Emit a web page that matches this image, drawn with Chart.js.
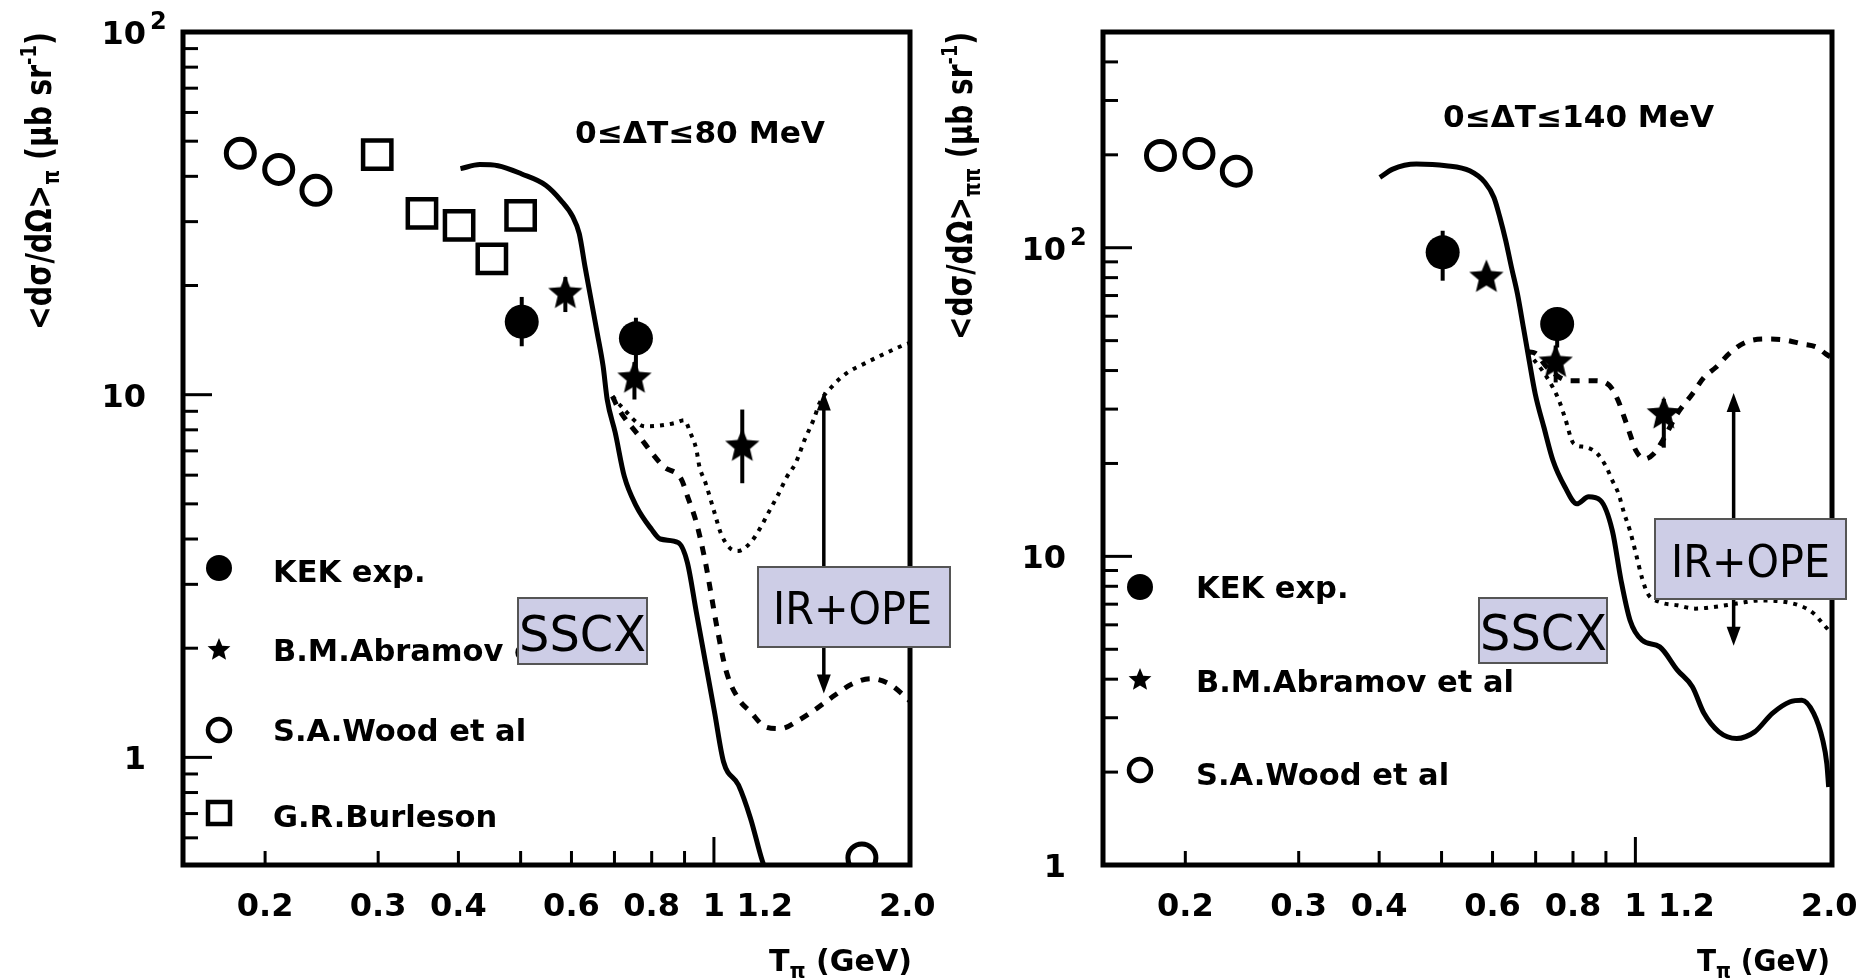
<!DOCTYPE html>
<html>
<head>
<meta charset="utf-8">
<script src="https://cdn.jsdelivr.net/npm/chart.js@4.4.1/dist/chart.umd.min.js"></script>
<style>
  html, body { margin: 0; padding: 0; background: #fff; }
  body { width: 1874px; height: 979px; position: relative; overflow: hidden; }
  #cL { position: absolute; left: 0; top: 0; width: 960px; height: 979px; }
  #cR { position: absolute; left: 930px; top: 0; width: 944px; height: 979px; }
</style>
</head>
<body>
<canvas id="cL" width="960" height="979"></canvas>
<canvas id="cR" width="944" height="979"></canvas>
<script>
// ---------- axis ticks ----------
const xTicks = [0.2, 0.3, 0.4, 0.5, 0.6, 0.7, 0.8, 0.9, 1.0];
const xMajorTicks = [1.0];
const xLabelValues = [0.2, 0.3, 0.4, 0.6, 0.8, 1.0, 1.2, 2.0];
const xLabels = ['0.2', '0.3', '0.4', '0.6', '0.8', '1', '1.2', '2.0'];
const yLabelValues = [1, 10, 100];
const yLabels = ['1', '10', '10^2'];
const yMinorTicksL = [0.6, 0.7, 0.8, 0.9, 2, 3, 4, 5, 6, 7, 8, 9, 20, 30, 40, 50, 60, 70, 80, 90];
const yMajorTicksL = [1, 10];
const yMinorTicksR = [2, 3, 4, 5, 6, 7, 8, 9, 20, 30, 40, 50, 60, 70, 80, 90, 200, 300, 400];
const yMajorTicksR = [10, 100];

// ---------- measured points, T_pi in GeV ----------
const kekT = [0.502, 0.756];
const abramovT = [0.587, 0.752, 1.107];
const woodT = [0.183, 0.210, 0.240];
const woodExtraT = [1.70];
const burlesonT = [0.299, 0.351, 0.401, 0.451, 0.500];

// left panel: 0 <= dT <= 80 MeV
const kekL = [15.9, 14.3];
const kekLoL = [13.6, 11.3];
const kekHiL = [18.6, 16.3];
const abramovL = [19.0, 11.1, 7.2];
const abramovLoL = [16.9, 9.7, 5.7];
const abramovHiL = [21.1, 12.3, 9.1];
const woodL = [46.3, 41.8, 36.6];
const woodExtraL = [0.528];
const burlesonL = [45.9, 31.6, 29.3, 23.7, 31.2];

// right panel: 0 <= dT <= 140 MeV
const kekR = [96.6, 56.6];
const kekLoR = [78.2, 47.5];
const kekHiR = [113.5, 63.5];
const abramovR = [80.1, 42.5, 28.9];
const abramovLoR = [80.1, 36.6, 22.5];
const abramovHiR = [80.1, 48.2, 32.4];
const woodR = [199, 202, 177];

// ---------- model curves ----------
// left, SSCX (solid)
const sscxLT = [0.403, 0.432, 0.461, 0.502, 0.547, 0.578, 0.603, 0.617, 0.630, 0.644, 0.658, 0.672, 0.682, 0.702, 0.725, 0.757, 0.799, 0.825, 0.880, 0.909, 0.939, 0.970, 1.002, 1.035, 1.092, 1.140, 1.190, 1.215];
const sscxLV = [42.0, 43.1, 42.8, 40.6, 37.8, 34.3, 30.9, 27.8, 22.5, 18.2, 14.8, 12.0, 9.7, 7.85, 5.96, 4.93, 4.26, 4.0, 3.91, 3.45, 2.51, 1.83, 1.335, 0.973, 0.839, 0.680, 0.517, 0.47];
// left, dashed
const dashLT = [0.695, 0.709, 0.765, 0.834, 0.890, 0.909, 0.939, 0.970, 0.991, 1.012, 1.046, 1.092, 1.140, 1.203, 1.270, 1.355, 1.445, 1.542, 1.645, 1.755, 1.872, 1.976, 2.02];
const dashLV = [9.9, 9.19, 7.68, 6.35, 5.84, 5.26, 4.44, 3.45, 2.79, 2.26, 1.72, 1.45, 1.335, 1.214, 1.20, 1.266, 1.363, 1.483, 1.597, 1.648, 1.597, 1.483, 1.43];
// left, dotted
const dotLT = [0.695, 0.717, 0.782, 0.825, 0.871, 0.899, 0.919, 0.939, 0.949, 0.970, 1.002, 1.024, 1.057, 1.092, 1.140, 1.178, 1.216, 1.256, 1.298, 1.341, 1.385, 1.430, 1.461, 1.525, 1.610, 1.718, 1.832, 1.955, 2.02];
const dotLV = [9.9, 9.29, 8.18, 8.22, 8.36, 8.50, 7.85, 7.06, 6.35, 5.72, 4.73, 4.17, 3.79, 3.71, 3.91, 4.26, 4.73, 5.26, 5.92, 6.49, 7.52, 8.54, 9.49, 10.5, 11.47, 12.2, 12.9, 13.6, 13.9];

// right, SSCX (solid)
const sscxRT = [0.401, 0.420, 0.457, 0.508, 0.553, 0.584, 0.603, 0.616, 0.629, 0.642, 0.656, 0.670, 0.684, 0.699, 0.721, 0.745, 0.777, 0.811, 0.846, 0.882, 0.921, 0.950, 0.981, 1.024, 1.091, 1.162, 1.226, 1.278, 1.348, 1.437, 1.532, 1.632, 1.739, 1.814, 1.892, 1.954, 1.983, 1.996];
const sscxRV = [168.9, 179.8, 186.6, 184.3, 177.5, 162.7, 145.5, 125.3, 105.4, 86.4, 70.8, 55.2, 43.1, 33.6, 26.2, 20.4, 16.8, 14.8, 15.6, 15.2, 12.1, 8.36, 6.21, 5.35, 5.09, 4.28, 3.78, 3.10, 2.70, 2.57, 2.70, 3.10, 3.38, 3.42, 3.10, 2.54, 2.13, 1.79];
// right, dashed
const dashRT = [0.680, 0.699, 0.729, 0.790, 0.863, 0.911, 0.940, 0.961, 0.981, 1.002, 1.034, 1.068, 1.102, 1.162, 1.226, 1.278, 1.334, 1.406, 1.483, 1.598, 1.702, 1.814, 1.913, 1.975, 2.02];
const dashRV = [46.0, 45.5, 41.0, 37.1, 37.1, 35.8, 32.0, 28.2, 24.9, 22.0, 20.7, 21.5, 23.7, 29.0, 33.6, 38.0, 41.0, 45.8, 49.4, 50.6, 50.3, 48.8, 47.6, 45.3, 44.0];
// right, dotted
const dotRT = [0.680, 0.729, 0.761, 0.777, 0.802, 0.837, 0.873, 0.901, 0.921, 0.941, 0.961, 0.981, 1.002, 1.023, 1.045, 1.091, 1.162, 1.239, 1.320, 1.437, 1.564, 1.795, 1.892, 1.954, 2.02];
const dotRV = [46.0, 38.0, 32.0, 28.2, 23.2, 22.6, 21.5, 19.5, 17.6, 16.0, 13.75, 12.1, 10.2, 8.57, 7.57, 7.11, 6.94, 6.77, 6.85, 7.03, 7.20, 6.94, 6.53, 6.06, 5.6];

// IR+OPE spread markers (T_pi, upper value, lower value)
const spreadL = [1.483, 10.2, 1.50];
const spreadR = [1.421, 33.8, 5.13];

// ---------- helpers ----------
const FONT = '"DejaVu Sans", "Liberation Sans", sans-serif';

function pts(xs, ys) { return xs.map((x, i) => ({ x: x, y: ys[i] })); }

function starPath(ctx, cx, cy, R) {
  ctx.beginPath();
  for (let k = 0; k < 10; k++) {
    const r = (k % 2) ? R * 0.45 : R;
    const a = -Math.PI / 2 + k * Math.PI / 5;
    const px = cx + r * Math.cos(a), py = cy + r * Math.sin(a);
    if (k === 0) ctx.moveTo(px, py); else ctx.lineTo(px, py);
  }
  ctx.closePath();
}

function starImage(R) {
  const c = document.createElement('canvas');
  const s = Math.ceil(2 * R + 2);
  c.width = s; c.height = s;
  const g = c.getContext('2d');
  starPath(g, s / 2, s / 2, R);
  g.fillStyle = '#000';
  g.fill();
  return c;
}

// draws runs of text (with sub/superscripts) scaled horizontally to width w
function richText(ctx, parts, x, y, w) {
  let nat = 0;
  parts.forEach(p => { ctx.font = p.f; nat += ctx.measureText(p.t).width; });
  const s = w ? w / nat : 1;
  ctx.save();
  ctx.translate(x, y);
  ctx.scale(s, 1);
  ctx.textAlign = 'left';
  ctx.textBaseline = 'alphabetic';
  ctx.fillStyle = '#000';
  let cx = 0;
  parts.forEach(p => {
    ctx.font = p.f;
    ctx.fillText(p.t, cx, p.dy || 0);
    cx += ctx.measureText(p.t).width;
  });
  ctx.restore();
}

function plainText(ctx, t, x, y, w, font) {
  richText(ctx, [{ t: t, f: font }], x, y, w);
}

function drawLegendMarker(ctx, kind, x, y) {
  ctx.save();
  ctx.fillStyle = '#000';
  ctx.strokeStyle = '#000';
  if (kind === 'kek') {
    ctx.beginPath(); ctx.arc(x, y, 13, 0, 2 * Math.PI); ctx.fill();
  } else if (kind === 'star') {
    starPath(ctx, x, y, 12); ctx.fill();
  } else if (kind === 'wood') {
    ctx.lineWidth = 4.5;
    ctx.beginPath(); ctx.arc(x, y, 11, 0, 2 * Math.PI); ctx.stroke();
  } else if (kind === 'burleson') {
    ctx.lineWidth = 4.5;
    ctx.strokeRect(x - 11, y - 11, 22, 22);
  }
  ctx.restore();
}

function drawSpread(ctx, xs, ys, spec) {
  const x = xs.getPixelForValue(spec[0]);
  const yT = ys.getPixelForValue(spec[1]);
  const yB = ys.getPixelForValue(spec[2]);
  const hh = 19, hw = 7;
  ctx.save();
  ctx.strokeStyle = '#000';
  ctx.fillStyle = '#000';
  ctx.lineWidth = 3.5;
  ctx.beginPath(); ctx.moveTo(x, yT + hh - 2); ctx.lineTo(x, yB - hh + 2); ctx.stroke();
  ctx.beginPath(); ctx.moveTo(x, yT); ctx.lineTo(x - hw, yT + hh); ctx.lineTo(x + hw, yT + hh); ctx.closePath(); ctx.fill();
  ctx.beginPath(); ctx.moveTo(x, yB); ctx.lineTo(x - hw, yB - hh); ctx.lineTo(x + hw, yB - hh); ctx.closePath(); ctx.fill();
  ctx.restore();
}

function drawBox(ctx, b) {
  ctx.save();
  ctx.fillStyle = '#cdcde6';
  ctx.fillRect(b.x0, b.y0, b.x1 - b.x0, b.y1 - b.y0);
  ctx.strokeStyle = '#555';
  ctx.lineWidth = 2;
  ctx.strokeRect(b.x0, b.y0, b.x1 - b.x0, b.y1 - b.y0);
  ctx.restore();
  plainText(ctx, b.text, b.tx, b.ty, b.tw, b.font);
}

function panelDecor(P) {
  return {
    id: 'panelDecor',
    beforeDatasetsDraw(chart) {
      const ctx = chart.ctx, xs = chart.scales.x, ys = chart.scales.y;
      ctx.save();
      ctx.strokeStyle = '#000';
      ctx.lineWidth = 4;
      chart.data.datasets.forEach(ds => {
        if (!ds.errLo) return;
        ds.data.forEach((p, j) => {
          const x = xs.getPixelForValue(p.x);
          ctx.beginPath();
          ctx.moveTo(x, ys.getPixelForValue(ds.errLo[j]));
          ctx.lineTo(x, ys.getPixelForValue(ds.errHi[j]));
          ctx.stroke();
        });
      });
      ctx.restore();
    },
    afterDatasetsDraw(chart) {
      const ctx = chart.ctx, xs = chart.scales.x, ys = chart.scales.y;
      const a = chart.chartArea;
      ctx.save();
      // frame
      ctx.strokeStyle = '#000';
      ctx.lineWidth = 5;
      ctx.strokeRect(a.left, a.top, a.right - a.left, a.bottom - a.top);
      // x ticks (inward from the bottom edge)
      ctx.lineWidth = 3;
      xTicks.forEach(v => {
        const x = xs.getPixelForValue(v);
        const len = xMajorTicks.includes(v) ? 28 : 14;
        ctx.beginPath(); ctx.moveTo(x, a.bottom); ctx.lineTo(x, a.bottom - len); ctx.stroke();
      });
      // y ticks (inward from the left edge)
      P.yMinor.forEach(v => {
        const y = ys.getPixelForValue(v);
        ctx.beginPath(); ctx.moveTo(a.left, y); ctx.lineTo(a.left + 15, y); ctx.stroke();
      });
      P.yMajor.forEach(v => {
        const y = ys.getPixelForValue(v);
        ctx.beginPath(); ctx.moveTo(a.left, y); ctx.lineTo(a.left + 29, y); ctx.stroke();
      });
      ctx.restore();

      // x tick labels
      ctx.save();
      ctx.fillStyle = '#000';
      ctx.font = 'bold 32px ' + FONT;
      ctx.textAlign = 'center';
      ctx.textBaseline = 'alphabetic';
      xLabelValues.forEach((v, i) => {
        ctx.fillText(xLabels[i], xs.getPixelForValue(v), 916);
      });
      // y tick labels
      ctx.textAlign = 'right';
      yLabelValues.forEach((v, i) => {
        const y = ys.getPixelForValue(v);
        const parts = yLabels[i].split('^');
        ctx.font = 'bold 32px ' + FONT;
        ctx.fillText(parts[0], a.left - 37, y + 12);
        if (parts[1]) {
          ctx.font = 'bold 24px ' + FONT;
          ctx.textAlign = 'left';
          ctx.fillText(parts[1], a.left - 33, y - 3);
          ctx.textAlign = 'right';
        }
      });
      ctx.restore();

      // y axis title, rotated
      ctx.save();
      ctx.translate(P.yTitle.cx, P.yTitle.y0);
      ctx.rotate(-Math.PI / 2);
      richText(ctx, [
        { t: '<dσ/dΩ>', f: 'bold 35px ' + FONT },
        { t: P.yTitle.sub, f: 'bold 23px ' + FONT, dy: 8 },
        { t: ' (μb sr', f: 'bold 35px ' + FONT },
        { t: '-1', f: 'bold 22px ' + FONT, dy: -15 },
        { t: ')', f: 'bold 35px ' + FONT }
      ], 0, 13, P.yTitle.y0 - P.yTitle.y1);
      ctx.restore();

      // x axis title
      richText(ctx, [
        { t: 'T', f: 'bold 31px ' + FONT },
        { t: 'π', f: 'bold 21px ' + FONT, dy: 7 },
        { t: ' (GeV)', f: 'bold 31px ' + FONT }
      ], P.xTitle.x, 971, P.xTitle.w);

      // energy window
      plainText(ctx, P.window.t, P.window.x, P.window.y, P.window.w, 'bold 30px ' + FONT);

      // legend
      P.legend.forEach(it => {
        drawLegendMarker(ctx, it.kind, P.legendX, it.my);
        plainText(ctx, it.t, P.legendTX, it.ty, 0, 'bold 30.5px ' + FONT);
      });

      // IR+OPE spread and labels
      drawSpread(ctx, xs, ys, P.spread);
      P.boxes.forEach(b => drawBox(ctx, b));
    }
  };
}

function makeChart(id, P) {
  const star = starImage(18);
  const datasets = [
    { label: 'KEK exp.', data: pts(kekT, P.kek), errLo: P.kekLo, errHi: P.kekHi,
      pointStyle: 'circle', pointRadius: 17, pointBackgroundColor: '#000', pointBorderWidth: 0, order: 0 },
    { label: 'B.M.Abramov et al', data: pts(abramovT, P.abr), errLo: P.abrLo, errHi: P.abrHi,
      pointStyle: star, pointRadius: 18, order: 0 },
    { label: 'S.A.Wood et al', data: pts(P.woodT, P.wood), clip: 0,
      pointStyle: 'circle', pointRadius: 14, pointBorderWidth: 5, pointBorderColor: '#000',
      pointBackgroundColor: 'rgba(0,0,0,0)', order: 0 },
    { type: 'line', label: 'SSCX', data: pts(P.sscxT, P.sscxV), showLine: true,
      borderColor: '#000', borderWidth: 5, pointRadius: 0, cubicInterpolationMode: 'monotone', order: 1 },
    { type: 'line', label: 'IR+OPE (a)', data: pts(P.dashT, P.dashV), showLine: true,
      borderColor: '#000', borderWidth: 5, borderDash: [9, 9], pointRadius: 0, cubicInterpolationMode: 'monotone', order: 1 },
    { type: 'line', label: 'IR+OPE (b)', data: pts(P.dotT, P.dotV), showLine: true,
      borderColor: '#000', borderWidth: 4, borderDash: [4, 6], pointRadius: 0, cubicInterpolationMode: 'monotone', order: 1 }
  ];
  if (P.burl) {
    datasets.push({ label: 'G.R.Burleson', data: pts(burlesonT, P.burl),
      pointStyle: 'rect', pointRadius: 20, pointBorderWidth: 4.5, pointBorderColor: '#000',
      pointBackgroundColor: 'rgba(0,0,0,0)', order: 0 });
  }
  return new Chart(document.getElementById(id), {
    type: 'scatter',
    data: { datasets: datasets },
    options: {
      responsive: false,
      animation: false,
      devicePixelRatio: 1,
      events: [],
      layout: { padding: { top: 32, right: P.padRight, left: 0, bottom: 0 } },
      plugins: { legend: { display: false }, tooltip: { enabled: false } },
      scales: {
        x: { type: 'logarithmic', min: 0.149, max: 2.02,
             ticks: { display: false }, grid: { display: false }, border: { display: false },
             afterFit: s => { s.height = 114; } },
        y: { type: 'logarithmic', min: P.yMin, max: P.yMax,
             ticks: { display: false }, grid: { display: false }, border: { display: false },
             afterFit: s => { s.width = P.axisWidth; } }
      }
    },
    plugins: [panelDecor(P)]
  });
}

makeChart('cL', {
  axisWidth: 183, padRight: 50, yMin: 0.505, yMax: 100,
  kek: kekL, kekLo: kekLoL, kekHi: kekHiL,
  abr: abramovL, abrLo: abramovLoL, abrHi: abramovHiL,
  woodT: woodT.concat(woodExtraT), wood: woodL.concat(woodExtraL),
  burl: burlesonL,
  sscxT: sscxLT, sscxV: sscxLV, dashT: dashLT, dashV: dashLV, dotT: dotLT, dotV: dotLV,
  yMinor: yMinorTicksL, yMajor: yMajorTicksL,
  yTitle: { cx: 38, y0: 330, y1: 32, sub: 'π' },
  xTitle: { x: 769, w: 143 },
  window: { t: '0≤ΔT≤80 MeV', x: 575, y: 143, w: 250 },
  legendX: 219, legendTX: 273,
  legend: [
    { kind: 'kek', t: 'KEK exp.', my: 568, ty: 582 },
    { kind: 'star', t: 'B.M.Abramov et al', my: 650, ty: 661 },
    { kind: 'wood', t: 'S.A.Wood et al', my: 730, ty: 741 },
    { kind: 'burleson', t: 'G.R.Burleson', my: 813, ty: 827 }
  ],
  spread: spreadL,
  boxes: [
    { x0: 518, y0: 598, x1: 647, y1: 664, text: 'SSCX', tx: 519, ty: 651, tw: 127, font: '50px ' + FONT },
    { x0: 758, y0: 567, x1: 950, y1: 647, text: 'IR+OPE', tx: 773, ty: 624, tw: 159, font: '44px ' + FONT }
  ]
});

makeChart('cR', {
  axisWidth: 173, padRight: 42, yMin: 1, yMax: 500,
  kek: kekR, kekLo: kekLoR, kekHi: kekHiR,
  abr: abramovR, abrLo: abramovLoR, abrHi: abramovHiR,
  woodT: woodT, wood: woodR,
  burl: null,
  sscxT: sscxRT, sscxV: sscxRV, dashT: dashRT, dashV: dashRV, dotT: dotRT, dotV: dotRV,
  yMinor: yMinorTicksR, yMajor: yMajorTicksR,
  yTitle: { cx: 29, y0: 340, y1: 32, sub: 'ππ' },
  xTitle: { x: 767, w: 133 },
  window: { t: '0≤ΔT≤140 MeV', x: 513, y: 127, w: 271 },
  legendX: 210, legendTX: 266,
  legend: [
    { kind: 'kek', t: 'KEK exp.', my: 587, ty: 598 },
    { kind: 'star', t: 'B.M.Abramov et al', my: 680, ty: 692 },
    { kind: 'wood', t: 'S.A.Wood et al', my: 770, ty: 785 }
  ],
  spread: spreadR,
  boxes: [
    { x0: 549, y0: 598, x1: 677, y1: 663, text: 'SSCX', tx: 550, ty: 650, tw: 127, font: '50px ' + FONT },
    { x0: 725, y0: 519, x1: 916, y1: 599, text: 'IR+OPE', tx: 741, ty: 577, tw: 159, font: '44px ' + FONT }
  ]
});
</script>
</body>
</html>
